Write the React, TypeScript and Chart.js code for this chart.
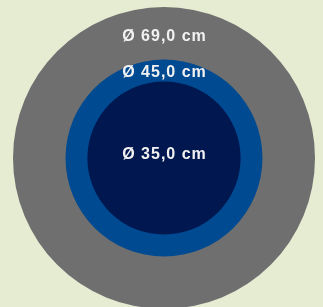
import React, { useEffect, useRef } from "react";
import { Chart, registerables } from "chart.js";

Chart.register(...registerables);

const labels = ["Ø 35,0 cm", "Ø 45,0 cm", "Ø 69,0 cm"];
const diameters = [35, 45, 69];
const colors = ["#00174f", "#004a91", "#6f6f6f"];

const ringLabels = {
  id: "ringLabels",
  afterDatasetsDraw(chart: any) {
    const { ctx } = chart;
    const r = chart.scales.r;
    const cx = r.xCenter;
    const cy = r.yCenter;
    ctx.save();
    ctx.font = "bold 16px 'Liberation Sans', Arial, sans-serif";
    try {
      (ctx as any).letterSpacing = "1px";
    } catch (e) {}
    ctx.fillStyle = "#f2f2f2";
    ctx.textAlign = "center";
    ctx.textBaseline = "alphabetic";
    diameters.forEach((d, i) => {
      let y: number;
      if (i === 0) {
        y = cy + 0.7;
      } else {
        const outer = r.getDistanceFromCenterForValue(d);
        const inner = r.getDistanceFromCenterForValue(diameters[i - 1]);
        const mid = (outer + inner) / 2;
        y = cy - mid + (i === 2 ? 7.4 : 6.2);
      }
      ctx.fillText(labels[i], cx + 0.5, y);
    });
    ctx.restore();
  },
};

export default function App() {
  const ref = useRef<HTMLCanvasElement>(null);
  useEffect(() => {
    if (!ref.current) return;
    const chart = new Chart(ref.current, {
      type: "polarArea",
      data: {
        labels: [""],
        datasets: diameters.map((d, i) => ({
          label: labels[i],
          data: [d],
          backgroundColor: colors[i],
          borderWidth: 0,
        })),
      },
      options: {
        responsive: false,
        animation: false,
        layout: { padding: { left: 5, top: 7, right: 0, bottom: 1 } },
        scales: { r: { display: false, min: 0, max: 69 } },
        plugins: { legend: { display: false }, tooltip: { enabled: false } },
      },
      plugins: [ringLabels],
    });
    return () => chart.destroy();
  }, []);
  return (
    <div
      style={{
        position: "fixed",
        left: 0,
        top: 0,
        width: 323,
        height: 310,
        background: "#e6ecd2",
      }}
    >
      <canvas ref={ref} width={323} height={310} style={{ display: "block" }} />
    </div>
  );
}
